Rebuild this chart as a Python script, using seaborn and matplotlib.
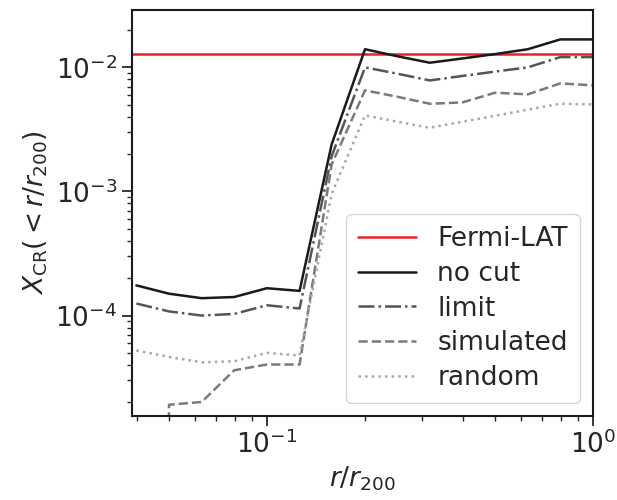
import numpy as np
import pandas as pd
import matplotlib
matplotlib.use("Agg")
import matplotlib.pyplot as plt
import seaborn as sns

# ---- data ----
r_r200 = [0.0398, 0.0501, 0.0631, 0.0794, 0.1, 0.126, 0.158, 0.2,
          0.251, 0.316, 0.398, 0.501, 0.631, 0.794, 1.0]
no_cut = [1.75e-4, 1.50e-4, 1.38e-4, 1.41e-4, 1.66e-4, 1.58e-4, 2.39e-3, 1.40e-2,
          1.23e-2, 1.09e-2, 1.18e-2, 1.28e-2, 1.40e-2, 1.68e-2, 1.68e-2]
limit = [1.25e-4, 1.08e-4, 1.00e-4, 1.03e-4, 1.21e-4, 1.14e-4, 1.92e-3, 1.00e-2,
         8.9e-3, 7.85e-3, 8.53e-3, 9.25e-3, 1.00e-2, 1.21e-2, 1.21e-2]
simulated = [0.0, 1.91e-5, 2.01e-5, 3.62e-5, 4.03e-5, 4.03e-5, 1.65e-3, 6.53e-3,
             5.8e-3, 5.09e-3, 5.22e-3, 6.25e-3, 6.06e-3, 7.43e-3, 7.16e-3]
random_ = [5.23e-5, 4.64e-5, 4.20e-5, 4.28e-5, 5.00e-5, 4.76e-5, 9.55e-4, 4.10e-3,
           3.65e-3, 3.26e-3, 3.65e-3, 4.07e-3, 4.56e-3, 5.09e-3, 5.03e-3]
fermi_lat = 1.28e-2

series_names = ["no cut", "limit", "simulated", "random"]
series_values = [no_cut, limit, simulated, random_]
colors = ["#1a1a1a", "#555555", "#7a7a7a", "#a8a8a8"]
styles = ["-", "-.", "--", ":"]

# ---- plotting ----
sns.set_style("ticks")
plt.rcParams["font.family"] = ["DejaVu Sans"]
plt.rcParams["mathtext.fontset"] = "dejavusans"
plt.rcParams["font.size"] = 19

fig = plt.figure(figsize=(6.17, 5.0), dpi=100)
ax = fig.add_axes([0.214, 0.168, 0.747, 0.812])

ax.axhline(fermi_lat, color="#e8222a", lw=1.8, label="Fermi-LAT")
for name, vals, c, ls in zip(series_names, series_values, colors, styles):
    df = pd.DataFrame({"r": r_r200, "X": vals})
    sns.lineplot(data=df, x="r", y="X", ax=ax, color=c, lw=1.8,
                 estimator=None, errorbar=None, label=name)
    ax.lines[-1].set_linestyle(ls)

ax.set_xscale("log")
ax.set_yscale("log")
ax.set_xlim(0.0386, 1.0)
ax.set_ylim(1.55e-5, 2.9e-2)

ax.set_xlabel(r"$r/r_{200}$", fontsize=19)
ax.set_ylabel(r"$X_{\rm CR}(<r/r_{200})$", fontsize=19)
ax.tick_params(axis="both", which="major", labelsize=19, length=7, width=1.3,
               color="#262626", labelcolor="#262626")
ax.tick_params(axis="both", which="minor", length=3.5, width=1.0, color="#262626")
for s in ax.spines.values():
    s.set_linewidth(1.5)
    s.set_color("#1a1a1a")

leg = ax.legend(loc="lower right", fontsize=19, handlelength=2.2,
                labelspacing=0.33, borderpad=0.45, handletextpad=0.8)
for t in leg.get_texts():
    t.set_color("#262626")

fig.savefig("out.png", dpi=100)
